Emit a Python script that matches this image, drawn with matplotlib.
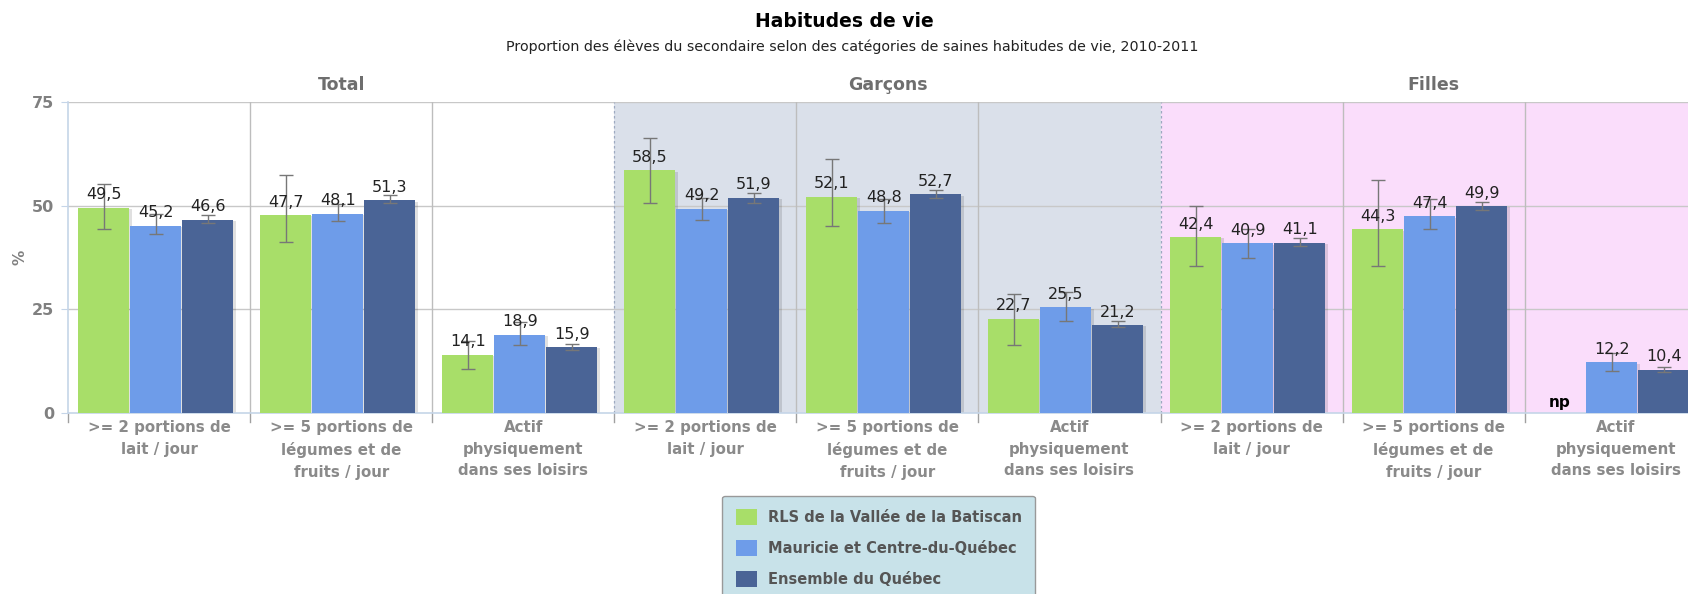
import matplotlib.pyplot as plt
import numpy as np
from matplotlib.patches import Patch

# data
groups = ["Total", "Garçons", "Filles"]
categories = [">= 2 portions de\nlait / jour",
              ">= 5 portions de\nlégumes et de\nfruits / jour",
              "Actif\nphysiquement\ndans ses loisirs"] * 3
series = ["RLS de la Vallée de la Batiscan", "Mauricie et Centre-du-Québec", "Ensemble du Québec"]

rls = [49.5, 47.7, 14.1, 58.5, 52.1, 22.7, 42.4, 44.3, np.nan]
rls_lo = [44.4, 41.3, 10.6, 50.6, 45.2, 16.4, 35.4, 35.4, np.nan]
rls_hi = [55.2, 57.5, 17.4, 66.4, 61.2, 28.8, 50.0, 56.3, np.nan]

mcq = [45.2, 48.1, 18.9, 49.2, 48.8, 25.5, 40.9, 47.4, 12.2]
mcq_lo = [43.1, 46.2, 16.3, 46.5, 45.8, 22.3, 37.4, 44.4, 10.2]
mcq_hi = [47.9, 50.5, 21.9, 51.9, 51.5, 29.3, 44.3, 51.5, 14.4]

qc = [46.6, 51.3, 15.9, 51.9, 52.7, 21.2, 41.1, 49.9, 10.4]
qc_lo = [45.9, 50.7, 15.1, 50.7, 51.9, 20.8, 40.2, 48.9, 9.8]
qc_hi = [47.7, 52.6, 16.6, 53.1, 53.8, 22.3, 42.3, 51.0, 11.1]

colors = ["#A8DE69", "#6E9CE9", "#4A6496"]
group_bg = ["white", "#DAE0EA", "#FADDFB"]

fig = plt.figure(figsize=(16.88, 5.94), dpi=100)
# plot area runs past the right edge like in the original screenshot
ax = fig.add_axes([0.0405, 0.3047, 0.9705, 0.5236])

n = len(categories)
ax.set_xlim(0, n)
ax.set_ylim(0, 75)

for g in range(3):
    ax.axvspan(g * 3, g * 3 + 3, color=group_bg[g], zorder=0, lw=0)

for y in [25, 50, 75]:
    ax.axhline(y, color="#C8C8C8", lw=1, zorder=1)
for b in range(1, n):
    if b % 3 == 0:
        ax.axvline(b, color="#9DA9C0", lw=0.9, ls=(0, (2, 2)), zorder=1)
    else:
        ax.axvline(b, color="#BDBDBD", lw=1, zorder=1)

x = np.arange(n) + 0.48
w = 0.28
offsets = [-0.286, 0, 0.286]
vals = [rls, mcq, qc]
los = [rls_lo, mcq_lo, qc_lo]
his = [rls_hi, mcq_hi, qc_hi]

for k in range(3):
    v = np.array(vals[k], dtype=float)
    xs = x + offsets[k]
    # soft shadow on the right side
    ax.bar(xs + 0.014, np.nan_to_num(v) - 0.3, w, color="#000000", alpha=0.12, zorder=2, lw=0)
    ax.bar(xs, np.nan_to_num(v), w, color=colors[k], zorder=3, lw=0)
    lo = v - np.array(los[k])
    hi = np.array(his[k]) - v
    ax.errorbar(xs, v, yerr=[lo, hi], fmt="none", ecolor="#777777", elinewidth=1,
                capsize=5, capthick=1, zorder=5)
    for xi, vi in zip(xs, v):
        if np.isnan(vi):
            ax.text(xi, 0.8, "np", ha="center", va="bottom", fontsize=11,
                    fontweight="bold", color="black", zorder=6)
        else:
            ax.annotate(f"{vi:.1f}".replace(".", ","), (xi, vi), xytext=(0, 4),
                        textcoords="offset points", ha="center", va="bottom",
                        fontsize=11.5, color="#222222", zorder=6)

ax.set_xticks(np.arange(n) + 0.5)
ax.set_xticklabels(categories, fontsize=10.8, fontweight="bold", color="#8A8A8A", linespacing=1.55)
ax.tick_params(axis="x", length=0, pad=5)
for b in range(0, n):
    ax.plot([b, b], [0, -2.2], color="#A0A0A0", lw=1, clip_on=False, zorder=1)

ax.set_yticks([0, 25, 50, 75])
ax.set_yticklabels(["0", "25", "50", "75"], fontsize=11.5, fontweight="bold", color="#808080")
ax.tick_params(axis="y", length=5, color="#C5D5E8", pad=5)
ax.set_ylabel("%", fontsize=11, fontweight="bold", color="#808080")
ax.yaxis.set_label_coords(-0.025, 0.5)

for s in ["top", "right"]:
    ax.spines[s].set_visible(False)
for s in ["left", "bottom"]:
    ax.spines[s].set_color("#C5D5E8")
    ax.spines[s].set_linewidth(1.2)

for g, name in enumerate(groups):
    ax.text(g * 3 + 1.5, 1.025, name, transform=ax.get_xaxis_transform(), ha="center",
            va="bottom", fontsize=12.5, fontweight="bold", color="#6E6E6E")

fig.text(0.5, 0.963, "Habitudes de vie", ha="center", va="center", fontsize=13.5,
         fontweight="bold", color="black")
fig.text(0.505, 0.922, "Proportion des élèves du secondaire selon des catégories de saines habitudes de vie, 2010-2011",
         ha="center", va="center", fontsize=10.3, color="#222222")

handles = [Patch(facecolor=c, edgecolor="none") for c in colors]
leg = fig.legend(handles, series, loc="upper center", bbox_to_anchor=(0.5205, 0.178),
                 frameon=True, fancybox=True, facecolor="#C8E2E9", edgecolor="#999999",
                 handlelength=1.45, handleheight=1.3, labelspacing=1.05, borderpad=0.9,
                 handletextpad=0.75, prop={"size": 10.5, "weight": "bold"})
leg.get_frame().set_alpha(1)
for t in leg.get_texts():
    t.set_color("#555555")

fig.savefig("out.png", dpi=100)
